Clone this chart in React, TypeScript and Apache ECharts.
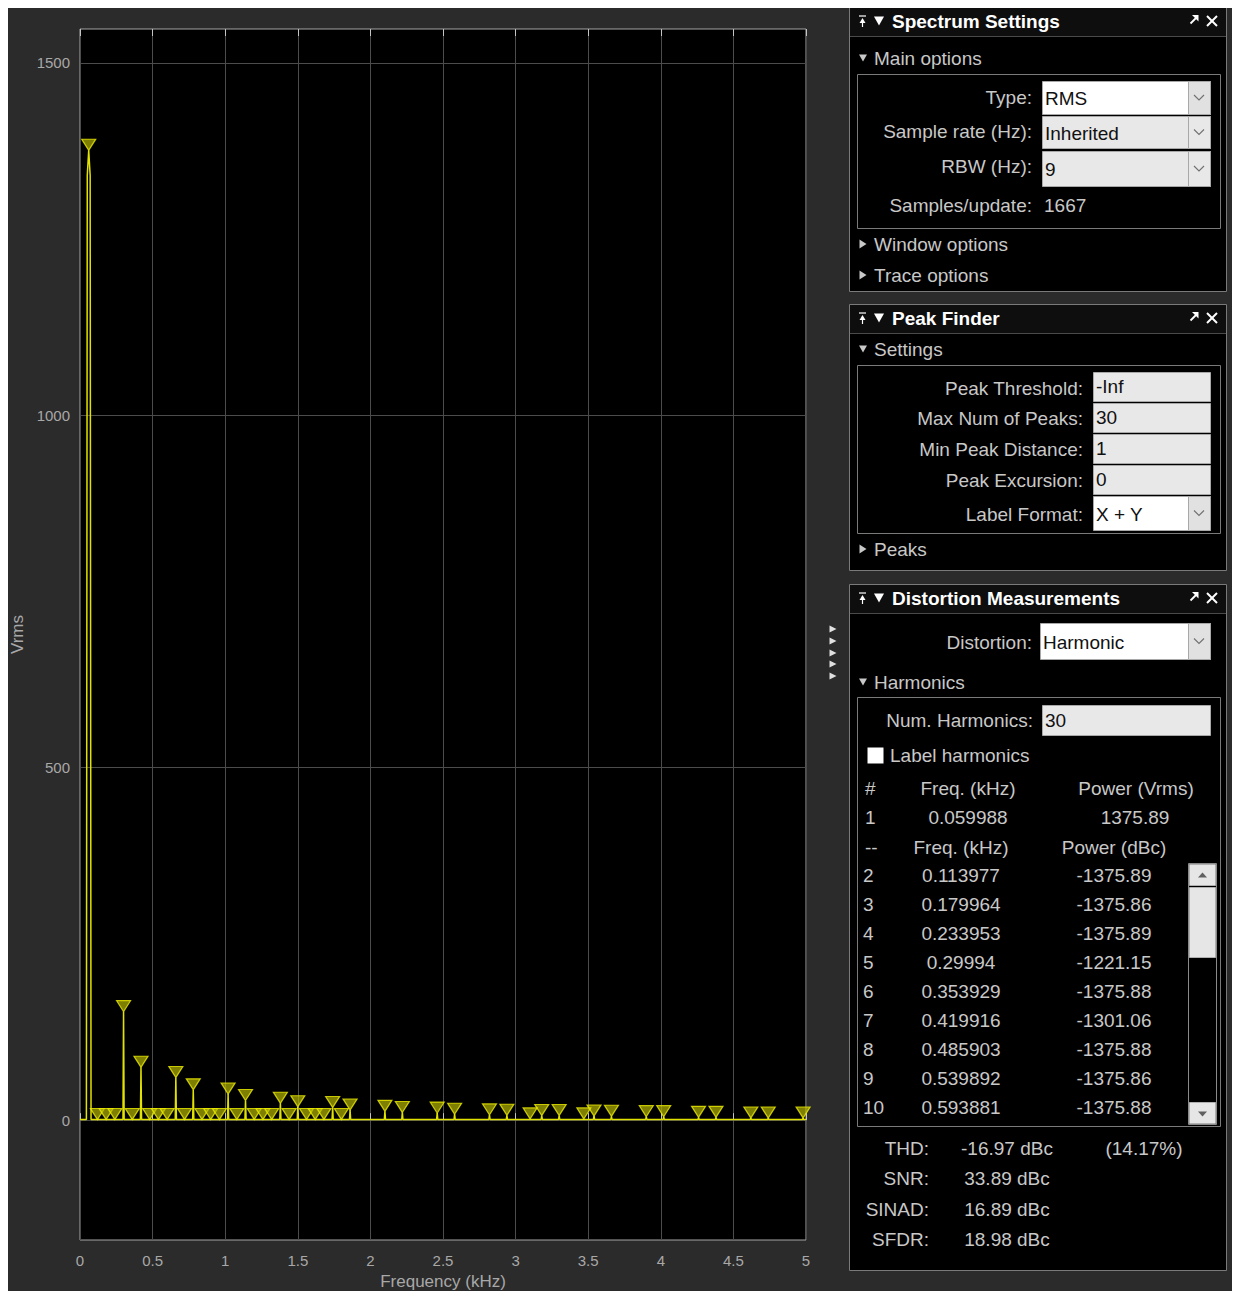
import React, { useEffect, useRef } from 'react';
import * as echarts from 'echarts';

// ---------- data ----------
const xTickInterval = 0.5;
const yTickValues = [0, 500, 1000, 1500];
const noiseFloor = 1;

// fundamental (harmonic 1) spike shape
const mainPeakFreqs = [0.044, 0.050, 0.06, 0.070, 0.076];
const mainPeakValues = [1, 1340, 1376, 1340, 1];

// large spectral peaks (kHz, Vrms)
const peakFreqs = [0.30, 0.42, 0.66, 0.78, 1.02, 1.14, 1.38, 1.50, 1.74, 1.86, 2.10, 2.22, 2.46, 2.58, 2.82, 2.94, 3.18, 3.30, 3.54, 3.66, 3.90, 4.02, 4.26, 4.38, 4.62, 4.74, 4.98];
const peakValues = [154, 75, 60.5, 43, 37, 28, 24, 19, 18, 14.5, 12.5, 11, 10, 8.5, 7.5, 7, 6.5, 6.5, 6, 5.5, 5, 5, 4, 4, 3, 3, 3];

// small markers sitting on the noise floor
const smallFreqs = [0.12, 0.18, 0.24, 0.36, 0.48, 0.54, 0.60, 0.72, 0.84, 0.90, 0.96, 1.08, 1.20, 1.26, 1.32, 1.44, 1.56, 1.62, 1.68, 1.80, 3.10, 3.47];
const smallValues = [1, 1, 1, 1, 1, 1, 1, 1, 1, 1, 1, 1, 1, 1, 1, 1, 1, 1, 1, 1, 1.8, 1.8];

// harmonics table
const harmNums = ['2', '3', '4', '5', '6', '7', '8', '9', '10'];
const harmFreqs = ['0.113977', '0.179964', '0.233953', '0.29994', '0.353929', '0.419916', '0.485903', '0.539892', '0.593881'];
const harmPowers = ['-1375.89', '-1375.86', '-1375.89', '-1221.15', '-1375.88', '-1301.06', '-1375.88', '-1375.86', '-1375.88'];
const fundFreq = '0.059988';
const fundPower = '1375.89';
const summaryLabels = ['THD:', 'SNR:', 'SINAD:', 'SFDR:'];
const summaryValues = ['-16.97 dBc', '33.89 dBc', '16.89 dBc', '18.98 dBc'];
const thdPercent = '(14.17%)';

// ---------- helpers (page coordinates) ----------
const OX = 7;
const OY = 5;
const FONT = '"Liberation Sans", Arial, sans-serif';
const LABEL = '#c8c8c8';
const FS = 19;

function txt(text: string, x: number, y: number, o: any = {}) {
  const size = o.size ?? FS;
  const weight = o.bold ? 'bold ' : '';
  const align = o.align ?? 'left';
  return {
    type: 'text', x: x - OX, y: y - OY, silent: true, z: 20,
    style: {
      text, fill: o.color ?? LABEL, font: `${weight}${size}px ${FONT}`,
      textAlign: align, textVerticalAlign: 'middle', align, verticalAlign: 'middle',
    },
  };
}
function rect(x: number, y: number, w: number, h: number, fill: string, stroke?: string, lw = 1) {
  return {
    type: 'rect', silent: true, z: 10,
    shape: { x: x - OX, y: y - OY, width: w, height: h },
    style: { fill, stroke: stroke ?? 'none', lineWidth: lw },
  };
}
function line(x1: number, y1: number, x2: number, y2: number, stroke: string, lw = 1) {
  return {
    type: 'line', silent: true, z: 15,
    shape: { x1: x1 - OX, y1: y1 - OY, x2: x2 - OX, y2: y2 - OY },
    style: { stroke, lineWidth: lw },
  };
}
function poly(points: number[][], fill: string) {
  return {
    type: 'polygon', silent: true, z: 15,
    shape: { points: points.map(p => [p[0] - OX, p[1] - OY]) },
    style: { fill },
  };
}
function polyline(points: number[][], stroke: string, lw = 1) {
  return {
    type: 'polyline', silent: true, z: 15,
    shape: { points: points.map(p => [p[0] - OX, p[1] - OY]) },
    style: { stroke, lineWidth: lw, fill: 'none' },
  };
}
function triDown(cx: number, cy: number, w: number, h: number, fill: string) {
  return poly([[cx - w / 2, cy - h / 2], [cx + w / 2, cy - h / 2], [cx, cy + h / 2]], fill);
}
function triRight(cx: number, cy: number, w: number, h: number, fill: string) {
  return poly([[cx - w / 2, cy - h / 2], [cx - w / 2, cy + h / 2], [cx + w / 2, cy]], fill);
}
function triUp(cx: number, cy: number, w: number, h: number, fill: string) {
  return poly([[cx - w / 2, cy + h / 2], [cx + w / 2, cy + h / 2], [cx, cy - h / 2]], fill);
}
function chevron(cx: number, cy: number) {
  return polyline([[cx - 5, cy - 2.5], [cx, cy + 2.5], [cx + 5, cy - 2.5]], '#707070', 1.1);
}

function panelFrame(top: number, height: number, title: string) {
  const els: any[] = [];
  const cy = top + 14;
  els.push(rect(849.5, top + 0.5, 377, height, '#000000', '#7a7a7a'));
  els.push(rect(850, top + 1, 376, 28.5, '#0e0e0e'));
  els.push(line(850, top + 29.5, 1226, top + 29.5, '#4a4a4a'));
  // pin icon
  els.push(line(859, cy - 5, 866, cy - 5, '#ffffff', 1.2));
  els.push(triUp(862.5, cy - 0.5, 6, 5, '#ffffff'));
  els.push(line(862.5, cy, 862.5, cy + 6, '#ffffff', 1.2));
  // collapse arrow
  els.push(triDown(879, cy, 10, 9, '#ffffff'));
  els.push(txt(title, 892, cy, { bold: true, size: 19, color: '#ffffff' }));
  // undock icon
  els.push(poly([[1192, cy - 6], [1198.5, cy - 6], [1198.5, cy + 0.5]], '#ffffff'));
  els.push(line(1190.5, cy + 2.5, 1196, cy - 3, '#ffffff', 1.8));
  // close
  els.push(line(1207, cy - 5, 1217, cy + 5, '#ffffff', 2));
  els.push(line(1217, cy - 5, 1207, cy + 5, '#ffffff', 2));
  return els;
}

function section(label: string, y: number, open: boolean) {
  return [
    open ? triDown(863, y, 8, 7, '#c8c8c8') : triRight(863, y, 7, 9, '#c8c8c8'),
    txt(label, 874, y),
  ];
}

function dropdown(x: number, y: number, w: number, h: number, fill: string, value: string, btnFill: string) {
  return [
    rect(x + 0.5, y + 0.5, w, h, fill, '#a8a8a8'),
    rect(x + w - 22 + 0.5, y + 0.5, 22, h, btnFill, '#a8a8a8'),
    chevron(x + w - 11, y + h / 2),
    txt(value, x + 3, y + h / 2 + 1, { color: '#111111' }),
  ];
}
function field(x: number, y: number, w: number, h: number, value: string) {
  return [
    rect(x + 0.5, y + 0.5, w, h, '#e8e8e8', '#a8a8a8'),
    txt(value, x + 3, y + h / 2, { color: '#111111' }),
  ];
}

function buildGraphics() {
  const g: any[] = [];
  // splitter arrows
  [629, 641, 653, 664, 676].forEach(y => g.push(triRight(833, y, 7, 7, '#e0e0e0')));

  // ---- Spectrum Settings ----
  g.push(...panelFrame(7, 284, 'Spectrum Settings'));
  g.push(...section('Main options', 58, true));
  g.push(rect(857.5, 74.5, 363, 154, 'none', '#7a7a7a'));
  g.push(txt('Type:', 1032, 97, { align: 'right' }));
  g.push(...dropdown(1042, 81, 168, 33, '#ffffff', 'RMS', '#e1e1e1'));
  g.push(txt('Sample rate (Hz):', 1032, 131, { align: 'right' }));
  g.push(...dropdown(1042, 116, 168, 32, '#e8e8e8', 'Inherited', '#e8e8e8'));
  g.push(txt('RBW (Hz):', 1032, 166, { align: 'right' }));
  g.push(...dropdown(1042, 151, 168, 35, '#e8e8e8', '9', '#e8e8e8'));
  g.push(txt('Samples/update:', 1032, 205, { align: 'right' }));
  g.push(txt('1667', 1044, 205));
  g.push(...section('Window options', 244, false));
  g.push(...section('Trace options', 275, false));

  // ---- Peak Finder ----
  g.push(...panelFrame(304, 266, 'Peak Finder'));
  g.push(...section('Settings', 349, true));
  g.push(rect(857.5, 365.5, 363, 168, 'none', '#7a7a7a'));
  g.push(txt('Peak Threshold:', 1083, 388, { align: 'right' }));
  g.push(...field(1093, 372, 117, 29, '-Inf'));
  g.push(txt('Max Num of Peaks:', 1083, 418, { align: 'right' }));
  g.push(...field(1093, 403, 117, 29, '30'));
  g.push(txt('Min Peak Distance:', 1083, 449, { align: 'right' }));
  g.push(...field(1093, 434, 117, 29, '1'));
  g.push(txt('Peak Excursion:', 1083, 480, { align: 'right' }));
  g.push(...field(1093, 465, 117, 29, '0'));
  g.push(txt('Label Format:', 1083, 514, { align: 'right' }));
  g.push(...dropdown(1093, 496, 117, 34, '#ffffff', 'X + Y', '#e1e1e1'));
  g.push(...section('Peaks', 549, false));

  // ---- Distortion Measurements ----
  g.push(...panelFrame(584, 686, 'Distortion Measurements'));
  g.push(txt('Distortion:', 1032, 642, { align: 'right' }));
  g.push(...dropdown(1040, 623, 170, 36, '#ffffff', 'Harmonic', '#e1e1e1'));
  g.push(...section('Harmonics', 682, true));
  g.push(rect(857.5, 697.5, 363, 429, 'none', '#7a7a7a'));
  g.push(txt('Num. Harmonics:', 1033, 720, { align: 'right' }));
  g.push(...field(1042, 705, 168, 30, '30'));
  g.push(rect(867.5, 747.5, 16, 16, '#ffffff'));
  g.push(txt('Label harmonics', 890, 755));
  // table header
  g.push(txt('#', 865, 788));
  g.push(txt('Freq. (kHz)', 968, 788, { align: 'center' }));
  g.push(txt('Power (Vrms)', 1136, 788, { align: 'center' }));
  g.push(txt('1', 865, 817));
  g.push(txt(fundFreq, 968, 817, { align: 'center' }));
  g.push(txt(fundPower, 1135, 817, { align: 'center' }));
  g.push(txt('--', 865, 847));
  g.push(txt('Freq. (kHz)', 961, 847, { align: 'center' }));
  g.push(txt('Power (dBc)', 1114, 847, { align: 'center' }));
  harmNums.forEach((n, i) => {
    const y = 875 + i * 29.1;
    g.push(txt(n, 863, y));
    g.push(txt(harmFreqs[i], 961, y, { align: 'center' }));
    g.push(txt(harmPowers[i], 1114, y, { align: 'center' }));
  });
  // scrollbar
  g.push(rect(1188.5, 863.5, 28, 261, '#000000', '#8a8a8a'));
  g.push(rect(1189.5, 864.5, 26, 21, '#e6e6e6', '#b0b0b0'));
  g.push(triUp(1202.5, 875, 9, 5, '#606060'));
  g.push(rect(1189.5, 887.5, 26, 70, '#e6e6e6', '#b0b0b0'));
  g.push(rect(1189.5, 1102.5, 26, 21, '#e6e6e6', '#b0b0b0'));
  g.push(triDown(1202.5, 1114, 9, 5, '#606060'));
  // summary
  summaryLabels.forEach((l, i) => {
    const y = 1148 + i * 30.6;
    g.push(txt(l, 929, y, { align: 'right' }));
    g.push(txt(summaryValues[i], 1007, y, { align: 'center' }));
  });
  g.push(txt(thdPercent, 1144, 1148, { align: 'center' }));
  return g;
}

function buildSpectrum() {
  const data: number[][] = [[0, noiseFloor]];
  mainPeakFreqs.forEach((f, i) => data.push([f, mainPeakValues[i]]));
  peakFreqs.forEach((f, i) => {
    data.push([f - 0.004, noiseFloor]);
    data.push([f, peakValues[i]]);
    data.push([f + 0.004, noiseFloor]);
  });
  data.push([5, noiseFloor]);
  return data;
}

function buildMarkers() {
  const pts: number[][] = [[mainPeakFreqs[2], mainPeakValues[2]]];
  peakFreqs.forEach((f, i) => pts.push([f, peakValues[i]]));
  smallFreqs.forEach((f, i) => pts.push([f, smallValues[i]]));
  return pts;
}

export default function App() {
  const ref = useRef<HTMLDivElement>(null);
  useEffect(() => {
    if (!ref.current) return;
    const chart = echarts.init(ref.current, null, { renderer: 'svg' });
    const axisText = '#a8a8a8';
    const tickColor = '#c4c4c4';
    const tick = { show: true, inside: true, length: 7, lineStyle: { color: tickColor } };
    chart.setOption({
      animation: false,
      backgroundColor: '#2b2b2b',
      textStyle: { fontFamily: FONT },
      grid: {
        left: 80 - OX, top: 29 - OY, width: 726, height: 1211,
        show: true, backgroundColor: '#000000', borderColor: '#a6a6a6', borderWidth: 1,
        containLabel: false, outerBoundsMode: 'none',
      },
      xAxis: [
        {
          type: 'value', min: 0, max: 5, interval: xTickInterval, position: 'bottom',
          name: 'Frequency (kHz)', nameLocation: 'middle', nameGap: 31,
          nameTextStyle: { color: axisText, fontSize: 17, fontFamily: FONT },
          axisLine: { show: false },
          axisTick: tick,
          axisLabel: { color: axisText, fontSize: 15, margin: 13, fontFamily: FONT, formatter: (v: number) => String(v) },
          splitLine: { show: true, lineStyle: { color: '#4c4c4c', width: 1 } },
        },
        {
          type: 'value', min: 0, max: 5, interval: xTickInterval, position: 'top',
          axisLine: { show: false },
          axisTick: tick,
          axisLabel: { show: false },
          splitLine: { show: false },
        },
      ],
      yAxis: [
        {
          type: 'value', min: -170, max: 1548, position: 'left',
          name: 'Vrms', nameLocation: 'middle', nameGap: 49,
          nameTextStyle: { color: axisText, fontSize: 17, fontFamily: FONT },
          axisLine: { show: false },
          axisTick: { show: false, customValues: yTickValues },
          axisLabel: { color: axisText, fontSize: 15, margin: 10, fontFamily: FONT, customValues: yTickValues, formatter: (v: number) => String(v) },
          splitLine: { show: true, lineStyle: { color: '#4c4c4c', width: 1 } },
        },
      ],
      series: [
        {
          type: 'line', data: buildSpectrum(), showSymbol: false, symbol: 'none',
          lineStyle: { color: '#e2e200', width: 1.5 }, z: 3, silent: true,
        },
        {
          type: 'scatter', data: buildMarkers(), symbol: 'triangle', symbolRotate: 180,
          symbolSize: [14, 11], symbolOffset: [0, -5.5],
          itemStyle: { color: 'rgba(185,185,0,0.85)', borderColor: '#eeee00', borderWidth: 1.2 },
          z: 4, silent: true,
        },
      ],
      graphic: { elements: buildGraphics() },
    });
    return () => chart.dispose();
  }, []);
  return (
    <div style={{ position: 'relative', left: -1, top: -3, width: 1233, height: 1286 }}>
      <div ref={ref} style={{ width: 1233, height: 1286 }} />
    </div>
  );
}
